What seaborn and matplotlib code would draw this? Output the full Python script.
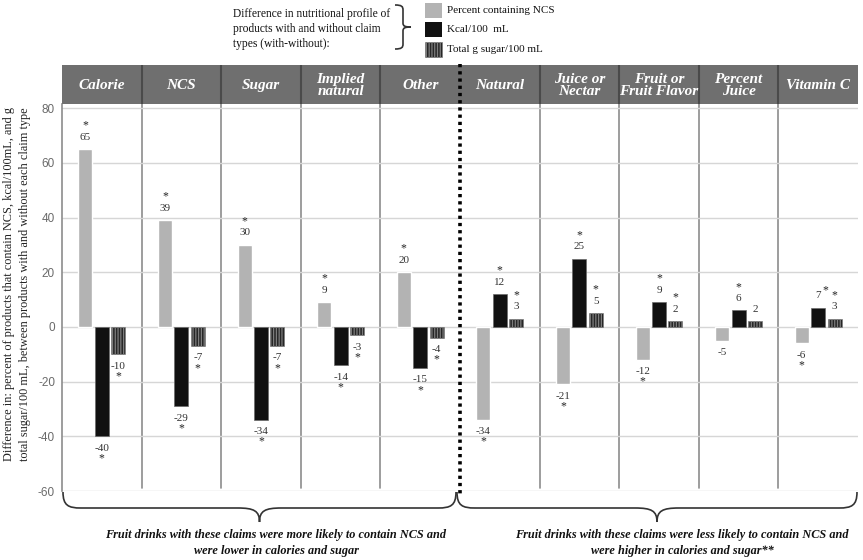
import numpy as np
import pandas as pd
import seaborn as sns
import matplotlib.pyplot as plt
from matplotlib.path import Path
from matplotlib.patches import PathPatch, Rectangle
from matplotlib.lines import Line2D
from matplotlib.transforms import blended_transform_factory

# ---------------- data ----------------
claims = ["Calorie", "NCS", "Sugar", "Implied\nnatural", "Other",
          "Natural", "Juice or\nNectar", "Fruit or\nFruit Flavor", "Percent\nJuice", "Vitamin C"]
series = ["Percent containing NCS", "Kcal/100  mL", "Total g sugar/100 mL"]
pct_ncs = [65, 39, 30, 9, 20, -34, -21, -12, -5, -6]
kcal = [-40, -29, -34, -14, -15, 12, 25, 9, 6, 7]
sugar = [-10, -7, -7, -3, -4, 3, 5, 2, 2, 3]
sig_ncs = [1, 1, 1, 1, 1, 1, 1, 1, 0, 1]
sig_kcal = [1, 1, 1, 1, 1, 1, 1, 1, 1, 1]
sig_sugar = [1, 1, 1, 1, 1, 1, 1, 1, 0, 1]
y_ticks = [-60, -40, -20, 0, 20, 40, 60, 80]
legend_title = "Difference in nutritional profile of\nproducts with and without claim\ntypes (with-without):"
y_label = ("Difference in: percent of products that contain NCS, kcal/100mL, and g\n"
           "total sugar/100 mL, between products with and without each claim type")
group_left = "Fruit drinks with these claims were more likely to contain NCS and\nwere lower in calories and sugar"
group_right = "Fruit drinks with these claims were less likely to contain NCS and\nwere higher in calories and sugar**"

# ---------------- style ----------------
W, H = 863, 560
sns.set_theme(style="white")
plt.rcParams['font.family'] = ['Liberation Serif', 'DejaVu Serif']
plt.rcParams['hatch.linewidth'] = 0.9
plt.rcParams['axes.unicode_minus'] = False

fig = plt.figure(figsize=(W / 100, H / 100), dpi=100)


def fx(x):
    return x / W


def fy(y):
    return 1 - y / H


L, R, T, B = 62, 858, 104, 491
ax = fig.add_axes([fx(L), fy(B), (R - L) / W, (B - T) / H])

df = pd.DataFrame({
    "claim": claims * 3,
    "measure": np.repeat(series, len(claims)),
    "value": pct_ncs + kcal + sugar,
})
colors = ["#b3b3b3", "#111111", "#262626"]
sns.barplot(data=df, x="claim", y="value", hue="measure", hue_order=series, order=claims,
            palette=colors, saturation=1, width=0.62, gap=0.15, errorbar=None,
            legend=False, ax=ax)

for p in ax.containers[1]:
    p.set_edgecolor("#6a6a6a")
    p.set_linewidth(0.5)
for p in ax.containers[2]:
    p.set_hatch("||||||")
    p.set_edgecolor("#7c7c7c")
    p.set_linewidth(0.4)

ax.set_xlim(-0.5, 9.5)
ax.set_ylim(-60, 81.5)
ax.set_yticks(y_ticks)
ax.set_xticks([])
ax.set_xlabel("")
ax.set_ylabel("")
ax.yaxis.grid(True, color="#d6d6d6", lw=1)
ax.set_axisbelow(True)
for s in ["top", "right", "bottom"]:
    ax.spines[s].set_visible(False)
ax.spines["left"].set_color("#8c8c8c")
ax.spines["left"].set_linewidth(1.2)
ax.tick_params(axis="y", length=0, pad=5, labelsize=8.5, labelcolor="#6a6a6a")
for lab in ax.get_yticklabels():
    lab.set_family(["Liberation Sans", "DejaVu Sans"])

for i in range(len(claims) - 1):
    if i == 4:
        continue
    ax.axvline(i + 0.5, ymin=3 / (B - T), ymax=1, color="#8c8c8c", lw=1.2, zorder=0.5)

# dotted separator
btr = blended_transform_factory(ax.transData, fig.transFigure)
fig.add_artist(Line2D([4.5, 4.5], [fy(64), fy(494)], transform=btr, color="black",
                      lw=2.6, linestyle=(0, (0.9, 1.1)), zorder=10))

# annotations
for cont, vals, sigs in zip(ax.containers, [pct_ncs, kcal, sugar], [sig_ncs, sig_kcal, sig_sugar]):
    for k, (bar, v, s) in enumerate(zip(cont, vals, sigs)):
        xc = bar.get_x() + bar.get_width() / 2
        sign = 1 if v >= 0 else -1
        ax.annotate(f"{v}", (xc, v), xytext=(0, sign * 8.6), textcoords="offset points",
                    ha="center", va="center", fontsize=8, color="#333333")
        if s:
            if cont is ax.containers[1] and k == 9:
                off = (4.8, 12.5)
            else:
                off = (0, 17.0 if sign > 0 else -15.8)
            ax.annotate("*", (xc, v), xytext=off, textcoords="offset points",
                        ha="center", va="center", fontsize=8.5, color="#222222")

# header
hx = fig.add_axes([fx(L), fy(T), (R - L) / W, (T - 65) / H])
hx.set_xlim(-0.5, 9.5)
hx.set_ylim(0, 1)
hx.axis("off")
hx.add_patch(Rectangle((-0.5, 0), 10, 1, facecolor="#6f6f6f", edgecolor="none"))
for i in range(len(claims) - 1):
    if i != 4:
        hx.axvline(i + 0.5, color="#4a4a4a", lw=1.5)
for i, c in enumerate(claims):
    hx.text(i, 0.47, c, ha="center", va="center", color="white", fontsize=11,
            fontweight="bold", fontstyle="italic", linespacing=0.95)

# y label
fig.text(fx(17), fy(284), y_label, rotation=90, ha="center", va="center",
         fontsize=8.8, color="#222222", multialignment="center", linespacing=1.45)


# braces
def brace(x0, x1, y0, h, h2, r, r2, horizontal=True):
    xm = (x0 + x1) / 2
    pts = [(x0, y0),
           (x0, y0 + h * 0.85), (x0 + r * 0.3, y0 + h), (x0 + r, y0 + h),
           (xm - r2, y0 + h),
           (xm - r2 * 0.25, y0 + h), (xm, y0 + h + (h2 - h) * 0.2), (xm, y0 + h2),
           (xm, y0 + h + (h2 - h) * 0.2), (xm + r2 * 0.25, y0 + h), (xm + r2, y0 + h),
           (x1 - r, y0 + h),
           (x1 - r * 0.3, y0 + h), (x1, y0 + h * 0.85), (x1, y0)]
    codes = [Path.MOVETO, Path.CURVE4, Path.CURVE4, Path.CURVE4, Path.LINETO,
             Path.CURVE4, Path.CURVE4, Path.CURVE4, Path.CURVE4, Path.CURVE4, Path.CURVE4,
             Path.LINETO, Path.CURVE4, Path.CURVE4, Path.CURVE4]
    if horizontal:
        verts = [(fx(a), fy(b)) for a, b in pts]
    else:
        verts = [(fx(b), fy(a)) for a, b in pts]
    fig.add_artist(PathPatch(Path(verts, codes), transform=fig.transFigure, fill=False,
                             lw=1.2, edgecolor="#333333"))


brace(63, 456, 492, 16, 30, 18, 22)
brace(457, 857, 492, 16, 30, 18, 22)
brace(5, 49, 395, 8, 16, 5, 4, horizontal=False)

fig.text(fx(276), fy(543), group_left, ha="center", va="center", fontsize=8.8,
         fontweight="bold", fontstyle="italic", color="#111111", linespacing=1.4)
fig.text(fx(682), fy(543), group_right, ha="center", va="center", fontsize=8.8,
         fontweight="bold", fontstyle="italic", color="#111111", linespacing=1.4)

# legend
fig.text(fx(233), fy(29), legend_title, ha="left", va="center", fontsize=8.3,
         color="#111111", linespacing=1.35)
sq_tops = [3, 22, 42]
for j, (lab, col) in enumerate(zip(series, colors)):
    rect = Rectangle((fx(425), fy(sq_tops[j] + 15)), 17 / W, 15 / H, transform=fig.transFigure,
                     facecolor=col, edgecolor="#7c7c7c" if j == 2 else "none", lw=0.4,
                     hatch="||||||" if j == 2 else None)
    fig.add_artist(rect)
    fig.text(fx(447), fy(sq_tops[j] + 7.5), lab, ha="left", va="center", fontsize=8,
             color="#111111")

fig.savefig("out.png", dpi=100)
